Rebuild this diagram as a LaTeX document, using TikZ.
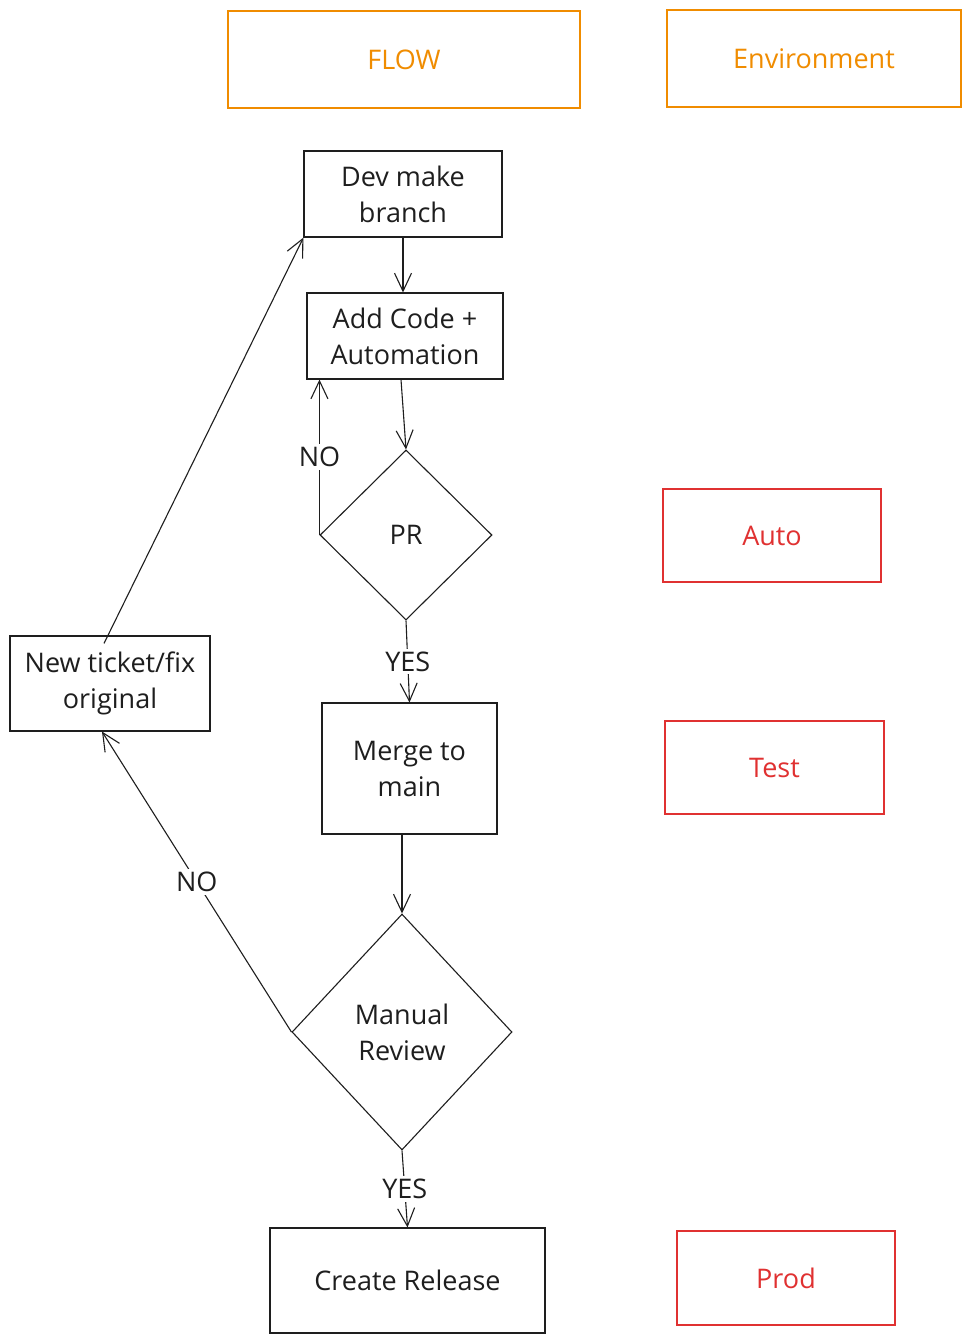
\documentclass[tikz,border=0pt]{standalone}
\usepackage{fontspec}
\setmainfont{Open Sans}
\usetikzlibrary{shapes.geometric,arrows.meta}
\begin{document}
\begin{tikzpicture}[x=1pt,y=-1pt,
  every node/.style={font=\fontsize{27}{36}\selectfont,align=center,text=inkColor},
  stepbox/.style={draw=inkColor,line width=1.1pt,inner sep=0pt},
  decision/.style={diamond,draw=inkColor,line width=1.1pt,inner sep=0pt},
  headbox/.style={draw=headColor,line width=1.1pt,inner sep=0pt,text=headColor},
  envbox/.style={draw=envColor,line width=1.1pt,inner sep=0pt,text=envColor},
  flow/.style={draw=inkColor,line width=1.1pt,-{Straight Barb[length=18pt,width=17pt,line width=1.1pt]}},
  answer/.style={fill=white,inner sep=3pt}]
\definecolor{fillColor}{RGB}{255,255,255}
\definecolor{inkColor}{RGB}{30,30,30}
\definecolor{headColor}{RGB}{240,140,0}
\definecolor{envColor}{RGB}{224,49,49}
\path[use as bounding box,fill=fillColor] (0,0) rectangle (971,1342);

\node[headbox,minimum width=352pt,minimum height=97pt] (flowhead) at (404,59.5) {FLOW};
\node[headbox,minimum width=294pt,minimum height=97pt] (envhead) at (814,58.5) {Environment};

\node[stepbox,minimum width=198pt,minimum height=86pt] (branch) at (403,194) {Dev make\\branch};
\node[stepbox,minimum width=196pt,minimum height=86pt] (code) at (405,336) {Add Code +\\Automation};
\node[decision,minimum width=172pt,minimum height=170pt] (pr) at (406,535) {PR};
\node[stepbox,minimum width=175pt,minimum height=131pt] (merge) at (409.5,768.5) {Merge to\\main};
\node[decision,minimum width=220pt,minimum height=236pt] (review) at (402,1032) {Manual\\Review};
\node[stepbox,minimum width=275pt,minimum height=105pt] (release) at (407.5,1280.5) {Create Release};
\node[stepbox,minimum width=200pt,minimum height=95pt] (ticket) at (110,683.5) {New ticket/fix\\original};

\node[envbox,minimum width=218pt,minimum height=93pt] (auto) at (772,535.5) {Auto};
\node[envbox,minimum width=219pt,minimum height=93pt] (test) at (774.5,767.5) {Test};
\node[envbox,minimum width=218pt,minimum height=94pt] (prod) at (786,1278) {Prod};

\draw[flow] (branch.south) -- (branch.south |- code.north);
\draw[flow] ([xshift=-4pt]code.south) -- (pr.north);
\draw[flow] (pr.west) -- (pr.west |- code.south) node[answer,midway] (prno) {NO};
\draw[flow] (pr.south) -- (merge.north) node[answer,midway] (pryes) {YES};
\draw[flow] (review.north |- merge.south) -- (review.north);
\draw[flow] (review.west) -- ([xshift=-8pt]ticket.south) node[answer,midway] (reviewno) {NO};
\draw[flow] (review.south) -- (release.north) node[answer,midway] (reviewyes) {YES};
\draw[flow] ([yshift=-8pt,xshift=-6pt]ticket.north) -- (branch.south west);
\end{tikzpicture}
\end{document}
